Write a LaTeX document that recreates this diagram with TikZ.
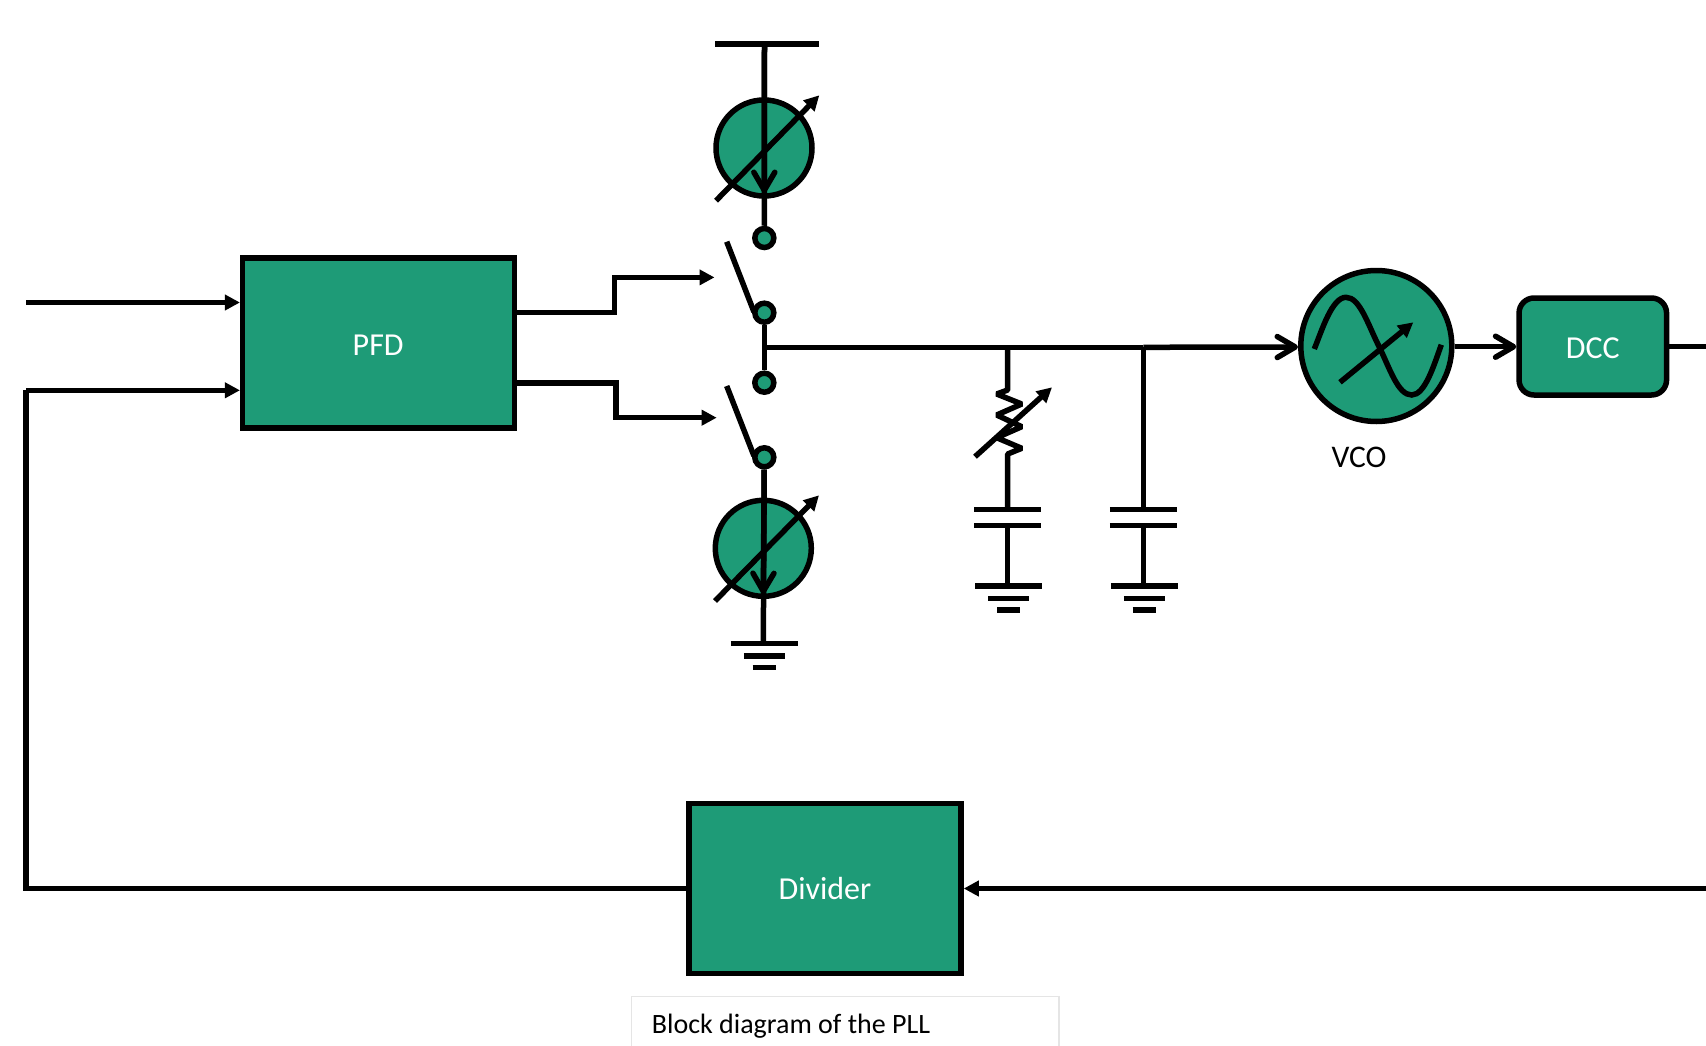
\documentclass[tikz,border=0pt]{standalone}
\usepackage{fontspec}
\setmainfont{Carlito}
\usetikzlibrary{arrows.meta,calc}
\definecolor{pllgreen}{HTML}{1E9B77}
\tikzset{
  wire/.style={line width=5.5pt,draw=black},
  block/.style={draw=black,line width=5.5pt,fill=pllgreen,text=white,font=\fontsize{32}{36}\selectfont,inner sep=0pt,minimum width=#1},
  block/.default=272pt,
  source/.style={circle,draw=black,line width=5.5pt,fill=pllgreen,minimum size=96pt,inner sep=0pt},
  contact/.style={circle,draw=black,line width=5.5pt,fill=pllgreen,minimum size=19pt,inner sep=0pt},
  solidarrow/.style={wire,-{Triangle[length=15pt,width=15pt]}},
  openarrow/.style={wire,-{Straight Barb[length=18pt,width=21pt,round]}},
  bar/.style={line width=5.5pt,draw=black},
  gnd/.pic={
    \draw[bar] (-32.5,0) -- (34.5,0);
    \draw[bar] (-19.5,12.7) -- (21.5,12.7);
    \draw[bar] (-10.7,24) -- (12.7,24);
  },
  capacitor/.pic={
    \draw[bar] (-33.5,0) -- (33.5,0);
    \draw[bar] (-33.5,16) -- (33.5,16);
  }
}
\begin{document}
\begin{tikzpicture}[x=1pt,y=-1pt]
\useasboundingbox (0,0) rectangle (1706,1046);
\clip (0,0) rectangle (1706,1046);

% caption
\draw[draw=black!10,line width=1.5pt] (631.7,1060) -- (631.7,996.7) -- (1059,996.7) -- (1059,1060);
\node[anchor=base west,inner sep=0pt,font=\fontsize{28}{32}\selectfont] (cap) at (651.7,1033) {Block diagram of the PLL};

% blocks
\node[block,minimum height=170pt] (PFD) at (378.7,343) {};
\node[block,minimum height=170pt] (DIV) at (825,888.5) {};
\node[block=147.5pt,minimum height=97pt,rounded corners=15pt] (DCC) at (1592.8,346.5) {};
\node[text=white,inner sep=0pt,font=\fontsize{32}{36}\selectfont] (PFDL) at (378.2,345) {PFD};
\node[text=white,inner sep=0pt,font=\fontsize{32}{36}\selectfont] (DIVL) at (825,888.5) {Divider};
\node[text=white,inner sep=0pt,font=\fontsize{32}{36}\selectfont] (DCCL) at (1592.8,348) {DCC};

% sources and VCO
\node[source] (ISU) at (764,148) {};
\node[source] (ISD) at (763.3,548.3) {};
\node[source,minimum size=151pt] (VCO) at (1376.3,346) {};
\node[anchor=center,inner sep=0pt,font=\fontsize{31.5}{34}\selectfont] (VCOL) at (1359,457.5) {VCO};

% contacts
\node[contact] (C1) at (764.3,238) {};
\node[contact] (C2) at (764.3,312.7) {};
\node[contact] (C3) at (764.3,382.7) {};
\node[contact] (C4) at (764.3,457.3) {};

% free-end coordinates
\coordinate (vdd) at (764.5,44);
\coordinate (gA) at (763.3,643.3);
\coordinate (J) at (764.3,347.3);
\coordinate (R1) at (1007.7,347.3);
\coordinate (R2) at (1143.3,347.3);
\coordinate (VIN) at (1298,347);
\coordinate (C1t) at (1007.7,509.7);
\coordinate (C1b) at (1007.7,525.7);
\coordinate (G1) at (1007.7,586);
\coordinate (C2t) at (1143.3,509.7);
\coordinate (C2b) at (1143.3,525.7);
\coordinate (G2) at (1143.3,586);
\coordinate (inA) at (26,302.5);
\coordinate (inB) at (26,390.3);
\coordinate (fb) at (26,888.5);
\coordinate (edgeR) at (1706,888.5);
\coordinate (edgeD) at (1706,346.7);
\coordinate (UPin) at (714.5,277.4);
\coordinate (DNin) at (716.7,417.7);
\coordinate (S1a) at (726.7,241.7);
\coordinate (S1b) at (754,312);
\coordinate (S2a) at (726.7,386);
\coordinate (S2b) at (754,456);

% supply and ground
\draw[bar] (715,44) -- (819,44);
\pic at (gA) {gnd};
\pic at (G1) {gnd};
\pic at (G2) {gnd};
\pic at (C1t) {capacitor};
\pic at (C2t) {capacitor};

% input / feedback
\draw[solidarrow] (inA) -- (inA -| PFD.west);
\draw[solidarrow] (inB) -- (inB -| PFD.west);
\draw[wire,line cap=butt] (DIV.west) -- (fb) -- (inB);
\draw[solidarrow] (edgeR) -- (DIV.east);

% PFD outputs
\draw[solidarrow] (517,312.3) -- (614.7,312.3) -- (614.7,277.4) -- (UPin);
\draw[solidarrow] (517,383) -- (616,383) -- (616,417.7) -- (DNin);

% switches
\draw[wire] (S1a) -- (S1b);
\draw[wire] (S2a) -- (S2b);
\draw[wire] (C2) -- (C3);

% current sources
\draw[wire] (vdd) -- (C1);
\draw[openarrow] (vdd) -- (764.3,193);
\draw[wire] (C4) -- (gA);
\draw[openarrow] (C4) -- (763.3,594);
\draw[solidarrow] (716,200.7) -- (819.3,95.3);
\draw[solidarrow] (715,601) -- (819,495.3);

% loop filter node
\draw[wire] (J) -- (R2);
\draw[openarrow] (R2) -- (VIN);
\draw[wire,line join=bevel] (R1) -- (1007.7,390) -- (996.7,394) -- (1021.7,404) -- (996.7,415) -- (1021.7,426.7) -- (996.7,437.7) -- (1021.7,448.3) -- (1007.7,454) -- (C1t);
\draw[solidarrow] (975,456.7) -- (1052,387.3);
\draw[wire] (C1b) -- (G1);
\draw[wire] (R2) -- (C2t);
\draw[wire] (C2b) -- (G2);

% VCO symbol
\draw[wire] (1314.3,349) .. controls (1322,330) and (1332,297.3) .. (1346,297.3)
  .. controls (1360,297.3) and (1368,325) .. (1379.3,347)
  .. controls (1390,369) and (1398,395) .. (1411.7,395)
  .. controls (1425,395) and (1434,365) .. (1441.3,344.7);
\draw[solidarrow] (1340,382.3) -- (1413.3,322.3);

% output
\draw[openarrow] (VCO.east |- edgeD) -- (DCC.west |- edgeD);
\draw[wire] (DCC.east |- edgeD) -- (edgeD);
\end{tikzpicture}
\end{document}
